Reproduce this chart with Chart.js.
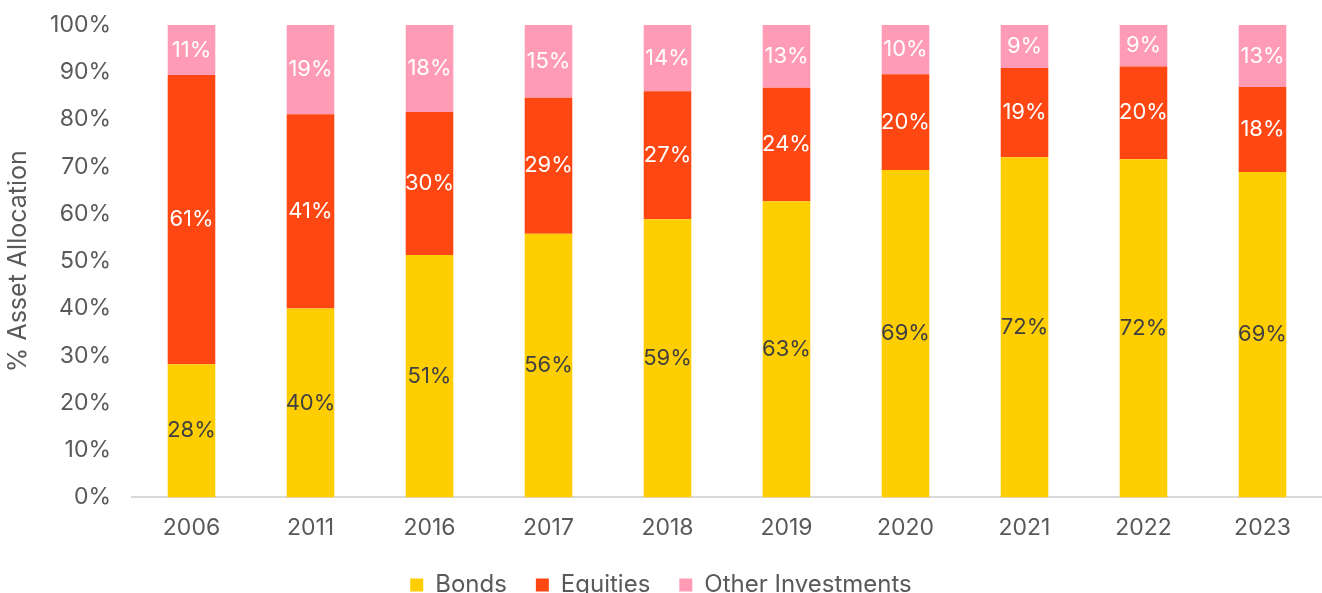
<!DOCTYPE html>
<html>
<head>
<meta charset="utf-8">
<script src="https://cdn.jsdelivr.net/npm/chart.js@4/dist/chart.umd.min.js"></script>
<style>
html,body{margin:0;padding:0;background:#fff;}
#wrap{width:1322px;height:593px;position:relative;}
</style>
</head>
<body>
<div id="wrap"><canvas id="c" width="1322" height="593"></canvas></div>
<script>
const categories = ['2006','2011','2016','2017','2018','2019','2020','2021','2022','2023'];
const bonds = [28.2, 40.0, 51.3, 55.8, 58.9, 62.7, 69.3, 72.0, 71.6, 68.9];
const equities = [61.2, 41.1, 30.3, 28.8, 27.1, 24.0, 20.3, 18.9, 19.6, 18.0];
const other = [10.6, 18.9, 18.4, 15.4, 14.0, 13.3, 10.4, 9.1, 8.9, 13.1];
const yTicks = [0,10,20,30,40,50,60,70,80,90,100];

const FONT = 'Inter, "Noto Sans", sans-serif';
const GREY = '#595959';

const labelPlugin = {
  id: 'segLabels',
  afterDatasetsDraw(chart) {
    const ctx = chart.ctx;
    ctx.save();
    ctx.font = '22px ' + FONT;
    ctx.textAlign = 'center';
    ctx.textBaseline = 'middle';
    chart.data.datasets.forEach((ds, di) => {
      const meta = chart.getDatasetMeta(di);
      meta.data.forEach((bar, i) => {
        const v = ds.data[i];
        ctx.fillStyle = ds.labelColor;
        ctx.fillText(Math.round(v) + '%', bar.x, (bar.y + bar.base) / 2);
      });
    });
    ctx.restore();
  }
};

new Chart(document.getElementById('c'), {
  type: 'bar',
  data: {
    labels: categories,
    datasets: [
      {label: 'Bonds', data: bonds, backgroundColor: '#FFCE00', labelColor: '#404040'},
      {label: 'Equities', data: equities, backgroundColor: '#FF4713', labelColor: '#ffffff'},
      {label: 'Other Investments', data: other, backgroundColor: '#FF9BB5', labelColor: '#ffffff'}
    ]
  },
  options: {
    responsive: false,
    animation: false,
    layout: {padding: {left: 0, right: 0, top: 25, bottom: -14}},
    datasets: {bar: {categoryPercentage: 1, barPercentage: 0.4}},
    plugins: {
      tooltip: {enabled: false},
      legend: {
        position: 'bottom',
        labels: {
          boxWidth: 13, boxHeight: 13, padding: 29,
          color: GREY, font: {family: FONT, size: 24}
        }
      }
    },
    scales: {
      x: {
        stacked: true,
        afterFit(axis) { axis.height = axis.height - 15; },
        grid: {display: false, drawTicks: false},
        border: {display: true, color: '#d9d9d9', width: 2},
        ticks: {color: GREY, font: {family: FONT, size: 23}, padding: 17}
      },
      y: {
        stacked: true,
        min: 0, max: 100,
        afterBuildTicks(axis) { axis.ticks = yTicks.map(v => ({value: v})); },
        afterFit(axis) { axis.width = 132; axis.paddingTop = 0; axis.paddingBottom = 0; },
        grid: {display: false, drawTicks: false},
        border: {display: false},
        ticks: {color: GREY, font: {family: FONT, size: 23}, padding: 21, callback: v => v + '%'},
        title: {display: true, text: '% Asset Allocation', color: GREY, font: {family: FONT, size: 25}, padding: {top: 3, bottom: 0}}
      }
    }
  },
  plugins: [labelPlugin]
});
</script>
</body>
</html>
